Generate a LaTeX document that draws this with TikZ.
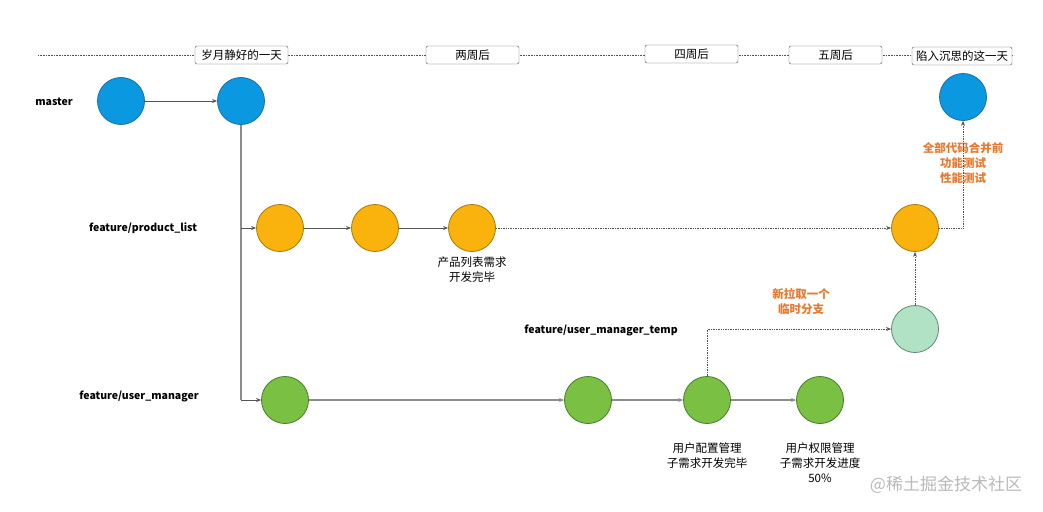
\documentclass[tikz,border=0pt]{standalone}
\usepackage{fontspec}
\setmainfont{Noto Sans CJK SC}
\usetikzlibrary{arrows.meta}
\definecolor{cblue}{HTML}{0A98E0}
\definecolor{cblueb}{HTML}{1B6FA8}
\definecolor{corange}{HTML}{FAB20C}
\definecolor{coranb}{HTML}{A8780A}
\definecolor{cgreen}{HTML}{7AC143}
\definecolor{cgreenb}{HTML}{4A7A2A}
\definecolor{ctemp}{HTML}{B2E2C6}
\definecolor{ctempb}{HTML}{5E8A70}
\definecolor{ctxt}{HTML}{E8782E}
\definecolor{cline}{HTML}{555555}
\tikzset{
  x=1pt, y=-1pt,
  commit/.style={circle, draw, line width=0.8pt, minimum size=47pt, inner sep=0pt},
  cblue/.style={commit, fill=cblue, draw=cblueb},
  corange/.style={commit, fill=corange, draw=coranb},
  cgreen/.style={commit, fill=cgreen, draw=cgreenb},
  ctemp/.style={commit, fill=ctemp, draw=ctempb},
  timebox/.style={draw=cline, rounded corners=2pt, fill=white, minimum width=93pt, minimum height=18pt, inner sep=1pt, font=\fontsize{11.5}{13}\selectfont},
  branch/.style={font=\fontsize{10.5}{12}\selectfont\bfseries, text=black},
  note/.style={align=center, font=\fontsize{11.5}{15}\selectfont},
  onote/.style={align=center, font=\fontsize{11.5}{15}\selectfont\bfseries, text=ctxt},
  arr/.style={-{Stealth[length=5pt,width=4pt]}, draw=cline, line width=0.7pt},
  darr/.style={-{Stealth[length=5pt,width=4pt]}, draw=cline, line width=0.7pt, densely dotted},
  trunk/.style={draw=gray!90, line width=1.2pt},
}
\begin{document}
\begin{tikzpicture}
\useasboundingbox (0,0) rectangle (1043,511);
% timeline
\coordinate (tl0) at (38,55);
\coordinate (tl1) at (1014,55);
\draw[cline, densely dotted, line width=0.6pt] (tl0) -- (tl1);
\node[timebox] (b1) at (241.5,55) {岁月静好的一天};
\node[timebox] (b2) at (472.5,55) {两周后};
\node[timebox] (b3) at (691.5,54) {四周后};
\node[timebox] (b4) at (835.5,55) {五周后};
\node[timebox, minimum width=100pt] (b5) at (962,56) {陷入沉思的这一天};
% branch labels
\node[branch] (lm) at (54,102) {master};
\node[branch] (lp) at (143,228) {feature/product\_list};
\node[branch] (lt) at (601,330) {feature/user\_manager\_temp};
\node[branch] (lu) at (139,396) {feature/user\_manager};
% commits
\node[cblue] (m1) at (121,101) {};
\node[cblue] (m2) at (241,101) {};
\node[cblue] (mf) at (963,97) {};
\node[corange] (p1) at (280,228) {};
\node[corange] (p2) at (375,228) {};
\node[corange] (p3) at (472,228) {};
\node[corange] (pf) at (915,228) {};
\node[ctemp] (t1) at (915,329) {};
\node[cgreen] (g1) at (285,400) {};
\node[cgreen] (g2) at (588,400) {};
\node[cgreen] (g3) at (707,400) {};
\node[cgreen] (g4) at (820,400) {};
% notes
\node[note] (n1) at (472,270) {产品列表需求\\开发完毕};
\node[note] (n2) at (707,456) {用户配置管理\\子需求开发完毕};
\node[note] (n3) at (820,463) {用户权限管理\\子需求开发进度\\50\%};
\node[onote] (n4) at (963,163) {全部代码合并前\\功能测试\\性能测试};
\node[onote] (n5) at (801,302) {新拉取一个\\临时分支};
\node[text=gray!55, font=\fontsize{17}{19}\selectfont] (wm) at (946,485) {@稀土掘金技术社区};
% connectors
\draw[arr] (m1) -- (m2);
\draw[trunk] (m2.south) -- (m2.south |- g1.west);
\draw[arr] (m2.south |- p1.west) -- (p1.west);
\draw[arr] (m2.south |- g1.west) -- (g1.west);
\draw[arr] (p1) -- (p2);
\draw[arr] (p2) -- (p3);
\draw[darr] (p3) -- (pf);
\draw[darr] (pf.east) -| (mf.south);
\draw[arr, draw=gray!90, line width=1.2pt] (g1) -- (g2);
\draw[arr, draw=gray!90, line width=1.2pt] (g2) -- (g3);
\draw[arr, draw=gray!90, line width=1.2pt] (g3) -- (g4);
\draw[darr] (g3.north) |- (t1.west);
\draw[darr] (t1.north) -- (pf.south);
\end{tikzpicture}
\end{document}
